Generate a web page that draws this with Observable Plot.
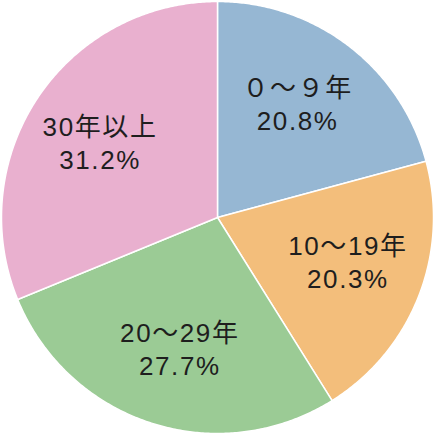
<!DOCTYPE html>
<html>
<head>
<meta charset="utf-8">
<script src="https://cdn.jsdelivr.net/npm/d3@7"></script>
<script src="https://cdn.jsdelivr.net/npm/@observablehq/plot@0.6"></script>
<style>
  html, body { margin: 0; padding: 0; background: #fff; }
  svg text { letter-spacing: 1.6px; }
</style>
</head>
<body>
<div id="chart"></div>
<script>
const categories = ["０～９年", "10～19年", "20～29年", "30年以上"];
const values = [20.8, 20.3, 27.7, 31.2];
const valueLabels = ["20.8%", "20.3%", "27.7%", "31.2%"];
const colors = ["#96b7d3", "#f3be7b", "#9bcb95", "#e9b0cf"];

const total = d3.sum(values);
const slices = [];
const labels = [];
let acc = 0;
const labelRadius = 0.64;
const labelShift = -2 * Math.PI / 180;
values.forEach((v, i) => {
  const a0 = acc / total * 2 * Math.PI;
  const a1 = (acc + v) / total * 2 * Math.PI;
  acc += v;
  slices.push({cat: categories[i], x: 0, y: 0});
  const n = Math.max(2, Math.ceil((a1 - a0) / (Math.PI / 360)));
  for (let k = 0; k <= n; k++) {
    const a = a0 + (a1 - a0) * k / n;
    slices.push({cat: categories[i], x: Math.sin(a), y: Math.cos(a)});
  }
  slices.push({cat: categories[i], x: 0, y: 0});
  const am = (a0 + a1) / 2 + labelShift;
  labels.push({cat: categories[i], val: valueLabels[i], x: labelRadius * Math.sin(am), y: labelRadius * Math.cos(am)});
});

const font = "'Liberation Sans', 'Noto Sans CJK JP', sans-serif";
const chart = Plot.plot({
  width: 436,
  height: 434,
  marginLeft: 1,
  marginRight: 3,
  marginTop: 1,
  marginBottom: 1,
  x: {domain: [-1, 1], axis: null},
  y: {domain: [-1, 1], axis: null},
  color: {domain: categories, range: colors},
  style: {fontFamily: font, background: "#fff"},
  marks: [
    Plot.line(slices, {x: "x", y: "y", z: "cat", fill: "cat", stroke: "#fff", strokeWidth: 1.5, curve: "linear"}),
    Plot.text(labels, {x: "x", y: "y", text: "cat", fontSize: 26, dy: -16.5, fill: "#1e1e1e", fontFamily: font}),
    Plot.text(labels, {x: "x", y: "y", text: "val", fontSize: 26, dy: 16.5, fill: "#1e1e1e", fontFamily: font})
  ]
});
document.getElementById("chart").appendChild(chart);
</script>
</body>
</html>
